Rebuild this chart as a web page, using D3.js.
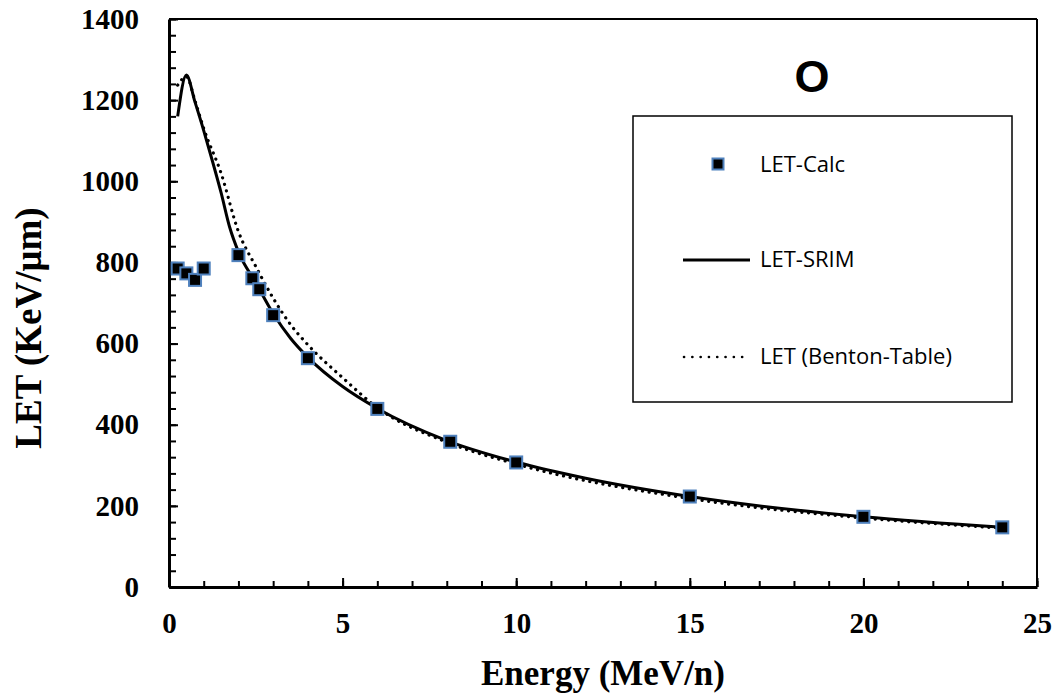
<!DOCTYPE html>
<html>
<head>
<meta charset="utf-8">
<script src="https://cdnjs.cloudflare.com/ajax/libs/d3/7.8.5/d3.min.js"></script>
<style>
  html, body { margin: 0; padding: 0; background: #fff; }
  svg { display: block; }
</style>
</head>
<body>
<svg id="chart" width="1062" height="700"></svg>
<script>
// LET of oxygen ions versus energy per nucleon

// Calculated LET values (markers)
const calcEnergy = [0.25, 0.5, 0.75, 1.0, 2.0, 2.4, 2.6, 3.0, 4.0, 6.0, 8.1, 10.0, 15.0, 20.0, 24.0];
const calcLET    = [785, 773, 757, 785, 818, 761, 734, 670, 564, 439, 358, 307, 223, 173, 147];

// SRIM curve (solid line)
const srimEnergy = [0.25, 0.5, 0.75, 1.0, 1.25, 1.5, 1.75, 2.0, 2.5, 3.0, 3.5, 4.0, 5.0, 6.0, 8.0, 10.0, 12.0, 15.0, 20.0, 24.0];
const srimLET    = [1160, 1262, 1195, 1125, 1050, 972, 886, 826, 750, 674, 613, 566, 494, 440, 361, 308, 268, 223, 173, 147];

// Benton table curve (dotted line)
const bentonEnergy = [0.25, 0.5, 0.75, 1.0, 1.5, 2.0, 2.5, 3.0, 3.5, 4.0, 5.0, 6.0, 8.0, 10.0, 15.0, 20.0, 24.0];
const bentonLET    = [1237, 1258, 1198, 1130, 1020, 876, 790, 712, 647, 597, 516, 442, 357, 303, 218, 170, 145];

// Axis ticks
const xTicks = [0, 5, 10, 15, 20, 25];
const yTicks = [0, 200, 400, 600, 800, 1000, 1200, 1400];
const xMinorTicks = d3.range(0, 26, 1);
const yMinorTicks = d3.range(0, 1401, 40);

const legendLabels = ["LET-Calc", "LET-SRIM", "LET (Benton-Table)"];
const panelTitle = "O";

const svg = d3.select("#chart");
const plot = { left: 169, right: 1037, top: 19, bottom: 587 };

const x = d3.scaleLinear().domain([0, 25]).range([plot.left, plot.right]);
const y = d3.scaleLinear().domain([0, 1400]).range([plot.bottom, plot.top]);

const serif = "'Liberation Serif', 'Times New Roman', serif";
const sans = "'Open Sans', 'Noto Sans', sans-serif";

// Frame on top and right
svg.append("line")
  .attr("x1", plot.left).attr("x2", plot.right)
  .attr("y1", plot.top).attr("y2", plot.top)
  .attr("stroke", "#000").attr("stroke-width", 2);
svg.append("line")
  .attr("x1", plot.right).attr("x2", plot.right)
  .attr("y1", plot.top).attr("y2", plot.bottom)
  .attr("stroke", "#000").attr("stroke-width", 2);

// Minor ticks (inward)
svg.append("g")
  .attr("transform", `translate(0,${plot.bottom})`)
  .call(d3.axisBottom(x).tickValues(xMinorTicks).tickSize(-6).tickFormat(""))
  .call(g => g.select(".domain").remove())
  .call(g => g.selectAll(".tick line").attr("stroke-width", 2));
svg.append("g")
  .attr("transform", `translate(${plot.left},0)`)
  .call(d3.axisLeft(y).tickValues(yMinorTicks).tickSize(-7).tickFormat(""))
  .call(g => g.select(".domain").remove())
  .call(g => g.selectAll(".tick line").attr("stroke-width", 2));

// Major axes
const xAxis = svg.append("g")
  .attr("transform", `translate(0,${plot.bottom})`)
  .call(d3.axisBottom(x).tickValues(xTicks).tickSize(-9).tickSizeOuter(0).tickPadding(25).tickFormat(d3.format("d")));
const yAxis = svg.append("g")
  .attr("transform", `translate(${plot.left},0)`)
  .call(d3.axisLeft(y).tickValues(yTicks).tickSize(-9).tickSizeOuter(0).tickPadding(30).tickFormat(d3.format("d")));

[xAxis, yAxis].forEach(g => {
  g.select(".domain").attr("stroke-width", 3);
  g.selectAll(".tick line").attr("stroke-width", 2);
  g.selectAll(".tick text")
    .attr("font-family", serif)
    .attr("font-weight", "bold")
    .attr("font-size", 29)
    .attr("fill", "#000");
});

// Axis titles
svg.append("text")
  .attr("x", 603)
  .attr("y", 685)
  .attr("text-anchor", "middle")
  .attr("font-family", serif).attr("font-weight", "bold").attr("font-size", 35)
  .text("Energy (MeV/n)");
svg.append("text")
  .attr("transform", `translate(41,328) rotate(-90)`)
  .attr("text-anchor", "middle")
  .attr("font-family", serif).attr("font-weight", "bold").attr("font-size", 37)
  .text("LET (KeV/μm)");

// Curves
const srimData = srimEnergy.map((e, i) => [e, srimLET[i]]);
const bentonData = bentonEnergy.map((e, i) => [e, bentonLET[i]]);
const calcData = calcEnergy.map((e, i) => [e, calcLET[i]]);

const line = d3.line().x(d => x(d[0])).y(d => y(d[1])).curve(d3.curveMonotoneX);

svg.append("path")
  .datum(bentonData)
  .attr("d", line)
  .attr("fill", "none")
  .attr("stroke", "#000")
  .attr("stroke-width", 3.2)
  .attr("stroke-linecap", "round")
  .attr("stroke-dasharray", "0.1 6.6");

svg.append("path")
  .datum(srimData)
  .attr("d", line)
  .attr("fill", "none")
  .attr("stroke", "#000")
  .attr("stroke-width", 3)
  .attr("stroke-linejoin", "round");

// Markers
const ms = 12;
svg.append("g").selectAll("rect")
  .data(calcData)
  .join("rect")
  .attr("x", d => x(d[0]) - ms / 2)
  .attr("y", d => y(d[1]) - ms / 2)
  .attr("width", ms).attr("height", ms)
  .attr("fill", "#000")
  .attr("stroke", "#4f81bd")
  .attr("stroke-width", 2);

// Panel title
svg.append("text")
  .attr("x", 812).attr("y", 92)
  .attr("text-anchor", "middle")
  .attr("font-family", "'Liberation Sans', Arial, sans-serif")
  .attr("font-weight", "bold").attr("font-size", 45)
  .text(panelTitle);

// Legend
const legend = svg.append("g");
legend.append("rect")
  .attr("x", 633).attr("y", 116)
  .attr("width", 379).attr("height", 286)
  .attr("fill", "#fff").attr("stroke", "#000").attr("stroke-width", 1.5);

legend.append("rect")
  .attr("x", 718 - 5.5).attr("y", 164 - 5.5)
  .attr("width", 11).attr("height", 11)
  .attr("fill", "#000").attr("stroke", "#4f81bd").attr("stroke-width", 2);
legend.append("line")
  .attr("x1", 683).attr("x2", 750).attr("y1", 260).attr("y2", 260)
  .attr("stroke", "#000").attr("stroke-width", 3);
legend.append("line")
  .attr("x1", 684).attr("x2", 750).attr("y1", 357).attr("y2", 357)
  .attr("stroke", "#000").attr("stroke-width", 2.6)
  .attr("stroke-linecap", "round")
  .attr("stroke-dasharray", "0.1 8.2");

const legendY = [171.5, 267, 364];
legend.selectAll("text.item")
  .data(legendLabels)
  .join("text")
  .attr("class", "item")
  .attr("x", 760)
  .attr("y", (d, i) => legendY[i])
  .attr("font-family", sans)
  .attr("font-size", 22)
  .attr("fill", "#000")
  .text(d => d);
</script>
</body>
</html>
